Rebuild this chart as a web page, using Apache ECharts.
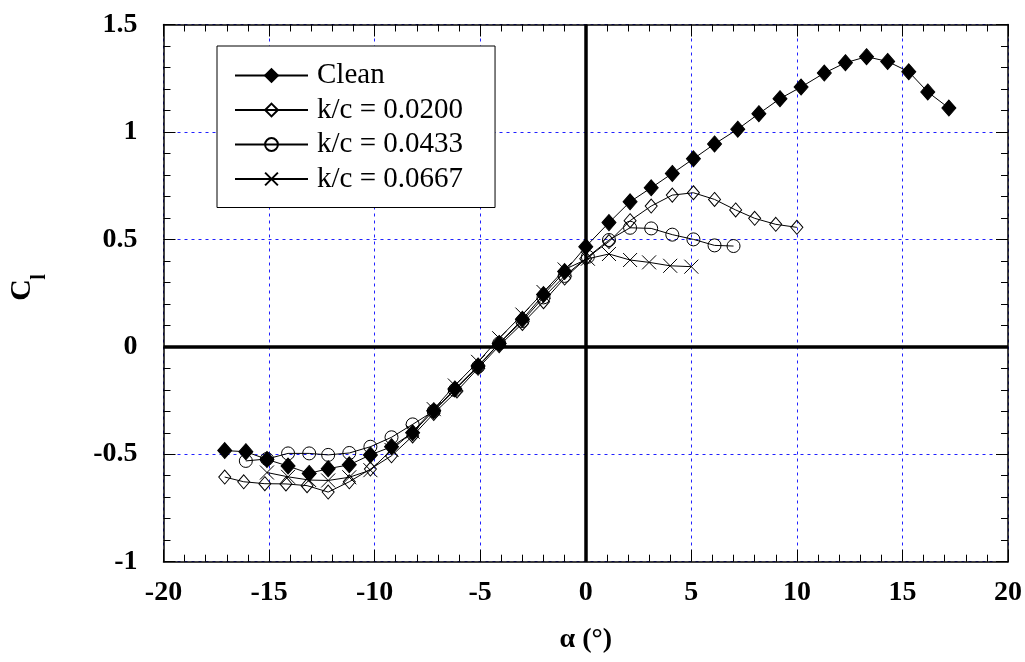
<!DOCTYPE html>
<html>
<head>
<meta charset="utf-8">
<script src="https://cdn.jsdelivr.net/npm/echarts@6/dist/echarts.min.js"></script>
<style>
  html, body { margin: 0; padding: 0; background: #fff; }
  #chart { width: 1025px; height: 662px; }
</style>
</head>
<body>
<div id="chart"></div>
<script>
// data
var seriesNames = ['Clean', 'k/c = 0.0200', 'k/c = 0.0433', 'k/c = 0.0667'];

var cleanAlpha = [-17.1, -16.1, -15.1, -14.1, -13.1, -12.2, -11.2, -10.2, -9.2, -8.2, -7.2, -6.2, -5.1, -4.1, -3.0,
  -2.0, -1.0, 0, 1.1, 2.1, 3.1, 4.1, 5.1, 6.1, 7.2, 8.2, 9.2, 10.2, 11.3, 12.3, 13.3, 14.3, 15.3, 16.2, 17.2];
var cleanCl = [-0.483, -0.488, -0.524, -0.555, -0.589, -0.567, -0.549, -0.503, -0.465, -0.40, -0.297, -0.196, -0.089, 0.016, 0.128,
  0.243, 0.35, 0.466, 0.578, 0.675, 0.740, 0.807, 0.875, 0.944, 1.013, 1.085, 1.155, 1.209, 1.274, 1.322, 1.350, 1.328, 1.280, 1.186, 1.111];

var k200Alpha = [-17.1, -16.2, -15.2, -14.2, -13.2, -12.2, -11.2, -10.2, -9.2, -8.2, -7.2, -6.1, -5.1, -4.1, -3.0,
  -2.0, -1.0, 0, 1.1, 2.1, 3.1, 4.1, 5.1, 6.1, 7.1, 8.0, 9.0, 10.0];
var k200Cl = [-0.606, -0.628, -0.637, -0.638, -0.646, -0.676, -0.628, -0.569, -0.507, -0.415, -0.31, -0.206, -0.10, 0.005, 0.109,
  0.21, 0.32, 0.41, 0.49, 0.587, 0.655, 0.706, 0.717, 0.686, 0.637, 0.598, 0.57, 0.556];

var k433Alpha = [-16.1, -15.1, -14.1, -13.1, -12.2, -11.2, -10.2, -9.2, -8.2, -7.2, -6.2, -5.1, -4.1, -3.0, -2.0,
  -1.0, 0.1, 1.1, 2.1, 3.1, 4.1, 5.1, 6.1, 7.0];
var k433Cl = [-0.531, -0.522, -0.496, -0.496, -0.503, -0.494, -0.465, -0.421, -0.361, -0.299, -0.201, -0.093, 0.016, 0.12, 0.23,
  0.33, 0.419, 0.497, 0.554, 0.551, 0.522, 0.50, 0.472, 0.469];

var k667Alpha = [-15.1, -14.1, -13.1, -12.2, -11.2, -10.2, -9.2, -8.2, -7.2, -6.2, -5.1, -4.1, -3.0, -2.0, -1.0,
  0.1, 1.1, 2.1, 3.0, 4.0, 5.0];
var k667Cl = [-0.585, -0.605, -0.62, -0.622, -0.607, -0.574, -0.48, -0.395, -0.29, -0.18, -0.07, 0.04, 0.15, 0.255, 0.36,
  0.41, 0.432, 0.404, 0.393, 0.377, 0.373];

function pairs(xs, ys) {
  var out = [];
  for (var i = 0; i < xs.length; i++) out.push([xs[i], ys[i]]);
  return out;
}

var serif = '"Liberation Serif", "Times New Roman", serif';
var gridLine = { show: true, lineStyle: { color: '#2020ff', width: 1, type: [3, 4] } };
var frameLine = { show: true, onZero: false, lineStyle: { color: '#000', width: 1.5 } };
var tickIn = { show: true, inside: true, length: 12, lineStyle: { color: '#000', width: 1 } };
var minorIn = { show: true, splitNumber: 5, length: 7, lineStyle: { color: '#000', width: 1 } };
var crossPath = 'path://M0,0L10,10M10,0L0,10';

function makeSeries(name, data, symbol, size, filled) {
  return {
    name: name,
    type: 'line',
    data: data,
    symbol: symbol,
    symbolSize: size,
    lineStyle: { color: '#000', width: 1 },
    itemStyle: {
      color: filled ? '#000' : 'rgba(0,0,0,0)',
      borderColor: '#000',
      borderWidth: 1
    },
    emphasis: { disabled: true },
    z: 3
  };
}

var series = [
  makeSeries(seriesNames[0], pairs(cleanAlpha, cleanCl), 'diamond', [14, 16], true),
  makeSeries(seriesNames[1], pairs(k200Alpha, k200Cl), 'diamond', [12, 14], false),
  makeSeries(seriesNames[2], pairs(k433Alpha, k433Cl), 'circle', 13, false),
  makeSeries(seriesNames[3], pairs(k667Alpha, k667Cl), crossPath, 14, false)
];
// thick zero lines
series[0].markLine = {
  silent: true,
  symbol: 'none',
  label: { show: false },
  lineStyle: { color: '#000', width: 3.5, type: 'solid' },
  data: [{ xAxis: 0 }, { yAxis: 0 }],
  animation: false
};

var chart = echarts.init(document.getElementById('chart'));
chart.setOption({
  animation: false,
  backgroundColor: '#fff',
  grid: { left: 163.5, right: 16, top: 24.5, bottom: 100.3 },
  legend: {
    orient: 'vertical',
    left: 217,
    top: 46,
    padding: [15, 32, 14, 17],
    itemWidth: 73,
    itemHeight: 16,
    itemGap: 5.5,
    backgroundColor: '#fff',
    borderColor: '#000',
    borderWidth: 1,
    textStyle: { fontFamily: serif, fontSize: 29, color: '#000', padding: [0, 0, 0, 4] },
    data: seriesNames
  },
  xAxis: [{
    type: 'value', min: -20, max: 20, interval: 5,
    position: 'bottom',
    axisLine: frameLine, axisTick: tickIn, minorTick: minorIn,
    splitLine: gridLine,
    axisLabel: { fontFamily: serif, fontWeight: 'bold', fontSize: 28, color: '#000', margin: 17 },
    name: 'α (°)', nameLocation: 'middle', nameGap: 64,
    nameTextStyle: { fontFamily: serif, fontWeight: 'bold', fontSize: 28, color: '#000' }
  }, {
    type: 'value', min: -20, max: 20, interval: 5,
    position: 'top',
    axisLine: frameLine, axisTick: tickIn, minorTick: minorIn,
    splitLine: { show: false }, axisLabel: { show: false }
  }],
  yAxis: [{
    type: 'value', min: -1, max: 1.5, interval: 0.5,
    position: 'left',
    axisLine: frameLine, axisTick: tickIn, minorTick: minorIn,
    splitLine: gridLine,
    axisLabel: { fontFamily: serif, fontWeight: 'bold', fontSize: 28, color: '#000', margin: 26 }
  }, {
    type: 'value', min: -1, max: 1.5, interval: 0.5,
    position: 'right',
    axisLine: frameLine, axisTick: tickIn, minorTick: minorIn,
    splitLine: { show: false }, axisLabel: { show: false }
  }],
  graphic: [{
    type: 'text', x: 22, y: 290, rotation: Math.PI / 2,
    style: { text: 'C', font: 'bold 30px ' + serif, fill: '#000', textAlign: 'center', textVerticalAlign: 'middle' }
  }, {
    type: 'text', x: 40, y: 277, rotation: Math.PI / 2,
    style: { text: 'l', font: 'bold 20px ' + serif, fill: '#000', textAlign: 'center', textVerticalAlign: 'middle' }
  }],
  series: series
});
</script>
</body>
</html>
